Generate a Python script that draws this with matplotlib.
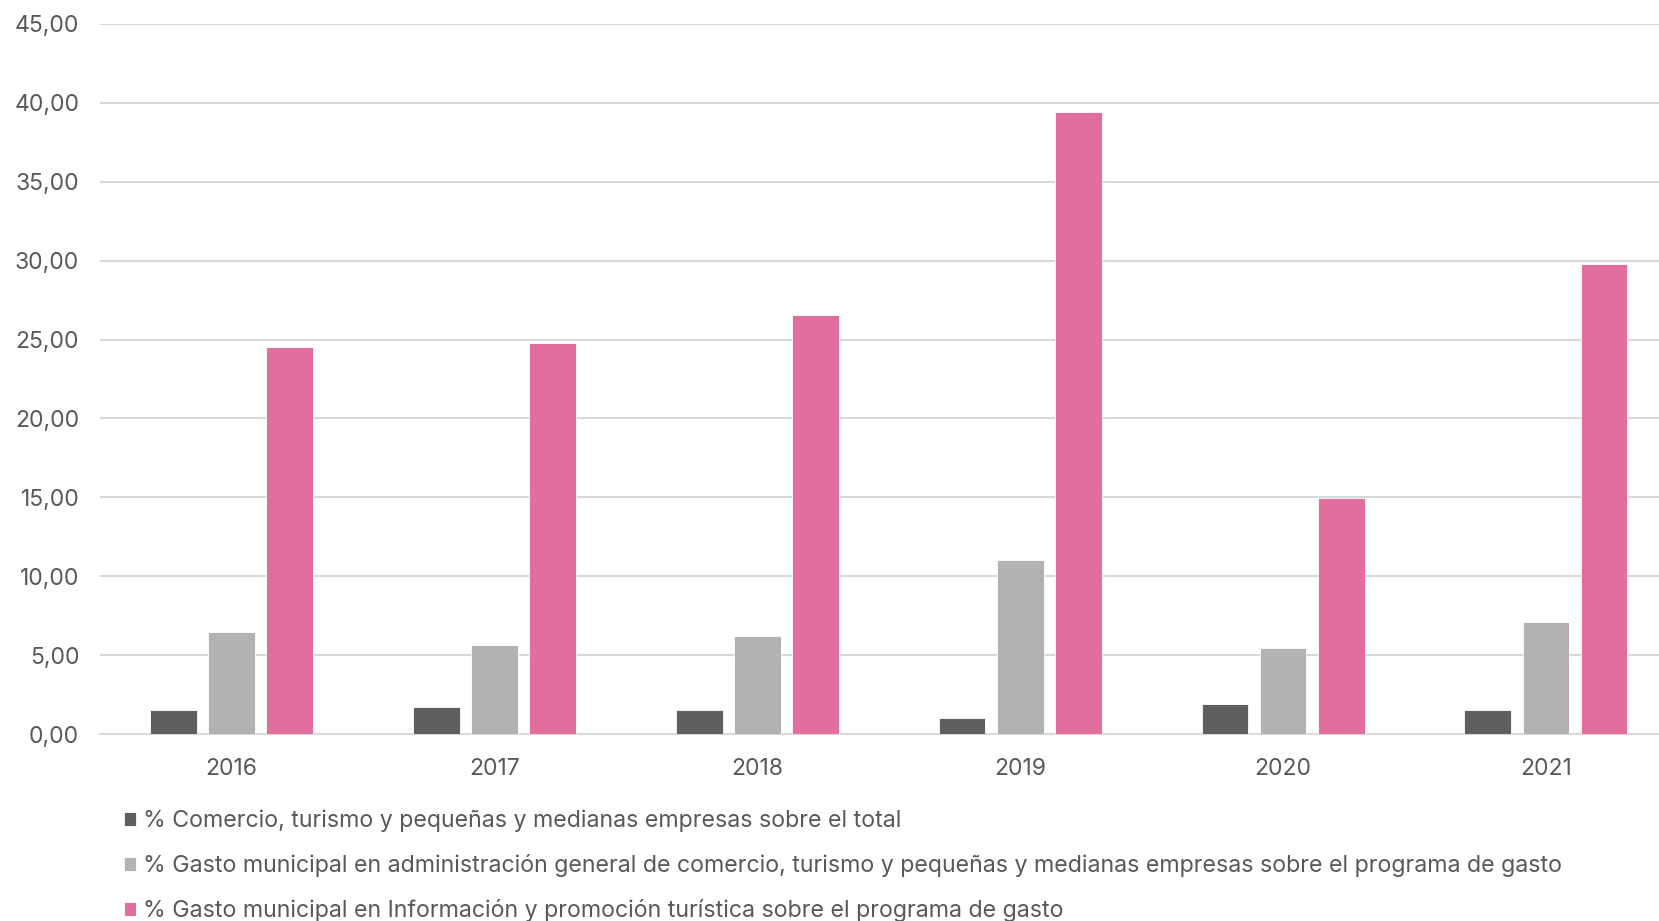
import numpy as np
import matplotlib
matplotlib.use("Agg")
import matplotlib.pyplot as plt
from matplotlib.ticker import FuncFormatter

plt.rcParams['font.family'] = ['Inter', 'DejaVu Sans']

years = ['2016', '2017', '2018', '2019', '2020', '2021']
comercio_total = [1.54, 1.74, 1.54, 1.00, 1.88, 1.54]
admin_general = [6.44, 5.63, 6.24, 11.00, 5.43, 7.11]
info_promocion = [24.55, 24.75, 26.56, 39.44, 14.96, 29.78]

labels = [
    '% Comercio, turismo y pequeñas y medianas empresas sobre el total',
    '% Gasto municipal en administración general de comercio, turismo y pequeñas y medianas empresas sobre el programa de gasto',
    '% Gasto municipal en Información y promoción turística sobre el programa de gasto',
]
colors = ['#5f5f5f', '#b2b2b2', '#e26e9e']
txt = '#595959'

fig = plt.figure(figsize=(16.59, 9.21), dpi=100)
ax = fig.add_axes([0.0603, 0.203, 0.9397, 0.771])

x = np.arange(len(years))
w = 0.178
off = 0.221
series = [comercio_total, admin_general, info_promocion]
for i, (vals, c, lab) in enumerate(zip(series, colors, labels)):
    ax.bar(x + (i - 1) * off, vals, width=w, color=c, label=lab,
           edgecolor='white', linewidth=0.6, zorder=3)

ax.set_ylim(0, 45)
ax.set_yticks(np.arange(0, 46, 5))
ax.yaxis.set_major_formatter(FuncFormatter(lambda v, p: f'{v:.2f}'.replace('.', ',')))
ax.set_xlim(-0.5, 5.43)
ax.set_xticks(x)
ax.set_xticklabels(years)

ax.grid(axis='y', color='#d9d9d9', linewidth=1.5, zorder=0)
for s in ['top', 'right', 'left']:
    ax.spines[s].set_visible(False)
ax.spines['bottom'].set_color('#d9d9d9')
ax.spines['bottom'].set_linewidth(1.5)
ax.tick_params(axis='both', length=0, labelsize=16.5, labelcolor=txt)
ax.tick_params(axis='y', pad=15)
ax.tick_params(axis='x', pad=17)

fig.legend(loc='upper left', bbox_to_anchor=(0.0745, 0.121), frameon=False,
           fontsize=16.7, labelcolor=txt, handlelength=0.55, handleheight=0.6,
           handletextpad=0.3, labelspacing=0.95, borderpad=0, borderaxespad=0)

fig.savefig('out.png', dpi=100)
